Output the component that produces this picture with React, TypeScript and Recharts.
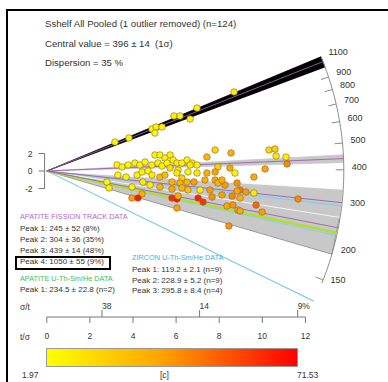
import React from 'react'
import { ScatterChart, Scatter, XAxis, YAxis, ReferenceLine, ReferenceDot } from 'recharts'

// summary values (Ma)
const CENTRAL_AGE = 396
const AFT_PEAKS = [245, 304, 439, 1050]
const AFT_ERRORS = [52, 36, 14, 55]
const AFT_SHARE = [8, 35, 48, 9]
const AHE_PEAKS = [234.5]
const AHE_ERRORS = [22.8]
const AHE_N = [2]
const ZHE_PEAKS = [119.2, 228.9, 295.8]
const ZHE_ERRORS = [2.1, 5.2, 8.4]
const ZHE_N = [9, 9, 4]

// axes
const ARC_TICKS = [150, 200, 300, 400, 500, 600, 700, 800, 900, 1100]
const ARC_RANGE = [145, 1105]
const T_SIGMA_TICKS = [0, 2, 4, 6, 8, 10, 12]
const SIGMA_T_POS = [2.56, 7.09, 11.64]
const SIGMA_T_LABELS = ['38', '14', '9%']
const Z_TICKS = [-2, 0, 2]
const C_MIN = 1.97
const C_MAX = 71.53

// grains: precision (t/sigma), standardised estimate, [c]
const GRAIN_X = [3.16, 3.81, 4.88, 5.07, 5.02, 5.35, 5.9, 6.18, 6.65, 6.97, 8.69, 5.02, 5.25, 5.72, 5.86, 5.48, 7.81, 8.55, 3.26, 3.49, 3.77, 4.09, 4.32, 4.56, 4.88, 5.16, 5.35, 5.58, 6.04, 6.27, 6.51, 6.74, 6.97, 6.65, 7.43, 7.94, 8.5, 5.72, 6.09, 6.55, 6.97, 7.43, 7.81, 8.73, 3.3, 3.68, 4.19, 4.42, 4.7, 4.88, 5.25, 5.48, 6.04, 6.27, 6.18, 6.51, 6.83, 7.34, 7.81, 7.94, 8.27, 8.83, 8.97, 2.79, 2.89, 3.95, 4.46, 4.79, 5.25, 5.81, 5.81, 6.27, 6.55, 7.11, 7.57, 7.67, 8.13, 8.6, 4.42, 3.95, 4.23, 5.81, 6.04, 6.09, 7.02, 7.25, 8.36, 8.64, 8.87, 8.45, 6.04, 10.31, 10.59, 10.64, 11.1, 11.15, 10.13, 9.61, 8.83, 9.24, 9.61, 8.97, 9.71, 9.99, 11.66, 8.97, 8.13]
const GRAIN_Y = [3.31, 3.77, 4.8, 5.03, 4.34, 5.03, 6.29, 6.29, 5.94, 7.2, 9.03, 1.83, 1.83, 1.83, 1.26, 1.49, 2.4, 2.06, 0.69, 0.46, 0.69, 0.91, 0.69, 1.03, 0.69, 0.91, 0.57, 0.91, 0.91, 0.91, 1.26, 0.91, 0.69, 0.69, 1.6, 0.46, 0.34, 0.34, 0.11, -0.11, -0.23, -0.23, -0.11, -0.23, -0.46, -0.69, -0.46, -0.11, 0, -0.46, -0.69, -0.46, -0.23, -0.8, -1.37, -1.26, -1.26, -1.03, -1.03, -1.37, -1.6, -1.37, -2.17, -1.26, -1.94, -1.83, -1.26, -1.6, -1.83, -1.26, -2.06, -1.94, -2.17, -2.17, -2.17, -2.97, -2.74, -2.86, -2.63, -3.09, -3.09, -3.09, -3.2, -2.86, -3.09, -3.54, -4.0, -3.89, -4.46, -6.29, -4.23, 2.4, 2.51, 1.71, 1.6, 0.8, 0.23, -0.69, -2.29, -2.4, -2.51, -3.09, -3.89, -4.69, -3.2, -4.57, -1.03]
const GRAIN_C = [5, 6, 5, 7, 4, 6, 8, 6, 5, 7, 9, 6, 5, 7, 6, 8, 17, 30, 5, 6, 5, 7, 6, 5, 8, 6, 7, 5, 9, 6, 7, 8, 6, 10, 28, 18, 32, 15, 8, 6, 9, 30, 34, 6, 5, 7, 6, 8, 5, 9, 27, 25, 10, 19, 31, 26, 35, 30, 33, 29, 36, 38, 45, 5, 6, 7, 9, 8, 28, 30, 33, 27, 24, 7, 36, 38, 34, 40, 30, 35, 66, 62, 68, 32, 64, 60, 33, 37, 35, 38, 34, 17, 20, 10, 8, 40, 33, 31, 34, 36, 9, 30, 48, 35, 40, 33, 30]

// layout (pixels)
const W = 388
const H = 382
const OX = 46.8
const OY = 171
const SX = 21.55
const SY = 8.75
const R = 297
const PLOT_L = 44.6
const PLOT_T = 12
const PLOT_R = 385
const PLOT_B = 317
const X_MIN = -(OX - PLOT_L) / SX
const X_MAX = (PLOT_R - OX) / SX
const Y_MAX = (OY - PLOT_T) / SY
const Y_MIN = -(PLOT_B - OY) / SY

const FONT = '"Liberation Sans", Arial, sans-serif'
const TXT = '#333'

const slopeOf = (age: number) => Math.log(age / CENTRAL_AGE)
const arcPoint = (age: number, r = R) => {
  const s = slopeOf(age)
  const x = r / Math.sqrt(SX * SX + SY * SY * s * s)
  return { x, y: s * x }
}
const angleOf = (age: number) => Math.atan2(SY * slopeOf(age), SX)

const arcData = (() => {
  const a0 = angleOf(ARC_RANGE[0])
  const a1 = angleOf(ARC_RANGE[1])
  const pts = []
  for (let i = 0; i <= 60; i++) {
    const a = a0 + ((a1 - a0) * i) / 60
    pts.push({ x: (R * Math.cos(a)) / SX, y: (R * Math.sin(a)) / SY })
  }
  return pts
})()

const grains = GRAIN_X.map((x, i) => ({ x, y: GRAIN_Y[i], c: GRAIN_C[i] }))

const mix = (a: number[], b: number[], t: number) => a.map((v, i) => Math.round(v + (b[i] - v) * t))
const colorOf = (c: number) => {
  const t = Math.max(0, Math.min(1, (c - C_MIN) / (C_MAX - C_MIN)))
  const rgb = t < 0.45 ? mix([255, 255, 0], [255, 165, 0], t / 0.45) : mix([255, 165, 0], [255, 0, 0], (t - 0.45) / 0.55)
  return `rgb(${rgb.join(',')})`
}

const band = (age: number, err: number) => [{ x: 0, y: 0 }, arcPoint(age + err), arcPoint(age - err)]
const ray = (age: number) => [{ x: 0, y: 0 }, arcPoint(age)]

const wedge = (fill: string, stroke: string) => (p: any) => (
  <polygon
    points={p.points.map((q: any) => `${q.x},${q.y}`).join(' ')}
    fill={fill}
    stroke={stroke}
    strokeWidth={0.8}
  />
)
const noDot = () => <g />

const BAND_STYLE = [
  { fill: '#c8c8c8', stroke: '#8a8a8a' },
  { fill: '#c8c8c8', stroke: '#ffffff' },
  { fill: '#c8c8c8', stroke: '#c8c8c8' },
  { fill: '#000000', stroke: '#000000' },
]

const line = (top: number, left: number, text: string, color = TXT, size = 8) => (
  <div
    style={{
      position: 'absolute',
      top,
      left,
      fontSize: size,
      color,
      lineHeight: '10px',
      whiteSpace: 'pre',
      fontFamily: FONT,
    }}
  >
    {text}
  </div>
)

export default function App() {
  return (
    <div style={{ position: 'absolute', left: 0, top: 0, width: W, height: H, background: '#fff', overflow: 'hidden' }}>
      <ScatterChart
        width={W}
        height={H}
        margin={{ top: PLOT_T, right: W - PLOT_R, bottom: H - PLOT_B - 30, left: PLOT_L - 30 }}
        style={{ fontFamily: FONT }}
      >
        <XAxis
          type="number"
          dataKey="x"
          domain={[X_MIN, X_MAX]}
          allowDataOverflow
          ticks={T_SIGMA_TICKS}
          axisLine={false}
          tickLine={{ stroke: '#777' }}
          tickSize={6}
          tickMargin={10}
          height={30}
          tick={{ fontSize: 8.5, fill: TXT }}
        />
        <YAxis
          type="number"
          dataKey="y"
          domain={[Y_MIN, Y_MAX]}
          allowDataOverflow
          ticks={Z_TICKS}
          axisLine={false}
          tickLine={{ stroke: '#777' }}
          tickSize={6}
          tickMargin={6}
          width={30}
          tick={{ fontSize: 8.5, fill: TXT }}
        />

        {/* peak bands (AFT) */}
        {AFT_PEAKS.map((p, i) => (
          <Scatter
            key={'band' + i}
            data={band(p, AFT_ERRORS[i])}
            line={wedge(BAND_STYLE[i].fill, BAND_STYLE[i].stroke)}
            shape={noDot}
            isAnimationActive={false}
          />
        ))}

        {/* arc scale */}
        <Scatter data={arcData} line={{ stroke: '#8c8c8c', strokeWidth: 1 }} shape={noDot} isAnimationActive={false} />
        {ARC_TICKS.map(a => (
          <ReferenceLine
            key={'t' + a}
            segment={[arcPoint(a), arcPoint(a, R - 8)]}
            stroke="#8c8c8c"
            ifOverflow="visible"
          />
        ))}
        {ARC_TICKS.map(a => (
          <ReferenceDot
            key={'l' + a}
            {...arcPoint(a, R + 8)}
            r={0}
            ifOverflow="visible"
            shape={(p: any) => (
              <text x={p.cx} y={p.cy - 2} fontSize={9} fill={TXT} dominantBaseline="middle">
                {a}
              </text>
            )}
          />
        ))}

        {/* peak lines */}
        {ZHE_PEAKS.map((p, i) => (
          <Scatter key={'z' + i} data={ray(p)} line={{ stroke: '#86cfe8', strokeWidth: 1.2 }} shape={noDot} isAnimationActive={false} />
        ))}
        {AHE_PEAKS.map((p, i) => (
          <Scatter key={'a' + i} data={ray(p)} line={{ stroke: '#b2e020', strokeWidth: 2.2 }} shape={noDot} isAnimationActive={false} />
        ))}
        {AFT_PEAKS.map((p, i) => (
          <Scatter key={'f' + i} data={ray(p)} line={{ stroke: '#9a62a8', strokeWidth: 0.9 }} shape={noDot} isAnimationActive={false} />
        ))}

        {/* grains */}
        <Scatter
          data={grains}
          isAnimationActive={false}
          shape={(p: any) => (
            <circle cx={p.cx} cy={p.cy} r={3.3} fill={colorOf(p.payload.c)} stroke="#7d6a3c" strokeWidth={0.6} />
          )}
        />

        {/* z bracket and precision axis lines */}
        <ReferenceLine segment={[{ x: X_MIN, y: -2 }, { x: X_MIN, y: 2 }]} stroke="#777" ifOverflow="visible" />
        <ReferenceLine segment={[{ x: 0, y: Y_MIN }, { x: 12, y: Y_MIN }]} stroke="#777" ifOverflow="visible" />
        {SIGMA_T_POS.map((v, i) => (
          <ReferenceDot
            key={'s' + i}
            x={v}
            y={Y_MIN}
            r={0}
            ifOverflow="visible"
            shape={(p: any) => (
              <g>
                <line x1={p.cx} y1={p.cy} x2={p.cx} y2={p.cy - 7} stroke="#777" />
                <text x={p.cx} y={p.cy - 10} fontSize={8.5} fill={TXT} dominantBaseline="middle">
                  {SIGMA_T_LABELS[i]}
                </text>
              </g>
            )}
          />
        ))}
      </ScatterChart>

      {/* frame */}
      <div style={{ position: 'absolute', left: 6, top: 9, width: 400, height: 400, borderTop: '2px solid #000', borderLeft: '2px solid #000' }} />

      {line(19, 45, 'Sshelf All Pooled (1 outlier removed) (n=124)', TXT, 9.6)}
      {line(39, 45, `Central value = ${CENTRAL_AGE} ± 14  (1σ)`, TXT, 9.6)}
      {line(58, 45, 'Dispersion = 35 %', TXT, 9.6)}

      {line(212, 20, 'APATITE FISSION TRACK DATA', '#b468c4', 7.3)}
      {AFT_PEAKS.map((p, i) => (
        <React.Fragment key={'lf' + i}>{line(224 + i * 11, 20, `Peak ${i + 1}: ${p} ± ${AFT_ERRORS[i]} (${AFT_SHARE[i]}%)`)}</React.Fragment>
      ))}
      <div style={{ position: 'absolute', left: 15, top: 256, width: 92, height: 10, border: '2px solid #000' }} />
      {line(274, 20, 'APATITE U-Th-Sm/He DATA', '#44c25a', 7.3)}
      {AHE_PEAKS.map((p, i) => (
        <React.Fragment key={'la' + i}>{line(285 + i * 11, 20, `Peak ${i + 1}: ${p} ± ${AHE_ERRORS[i]} (n=${AHE_N[i]})`)}</React.Fragment>
      ))}
      {line(253, 132, 'ZIRCON U-Th-Sm/He DATA', '#3fb0e6', 7.3)}
      {ZHE_PEAKS.map((p, i) => (
        <React.Fragment key={'lz' + i}>{line(265 + i * 10.7, 132, `Peak ${i + 1}: ${p} ± ${ZHE_ERRORS[i]} (n=${ZHE_N[i]})`)}</React.Fragment>
      ))}

      {line(302, 20, 'σ/t', TXT, 8.5)}
      {line(332, 20, 't/σ', TXT, 8.5)}

      {/* colour scale */}
      <div
        style={{
          position: 'absolute',
          left: 46,
          top: 348,
          width: 250,
          height: 17,
          border: '1px solid #999',
          background: 'linear-gradient(to right, #ffff00 0%, #ffa500 45%, #ff0000 100%)',
        }}
      />
      {line(370, 22, String(C_MIN), TXT, 8.5)}
      {line(370, 160, '[c]', TXT, 8.5)}
      {line(370, 297, String(C_MAX), TXT, 8.5)}
    </div>
  )
}
